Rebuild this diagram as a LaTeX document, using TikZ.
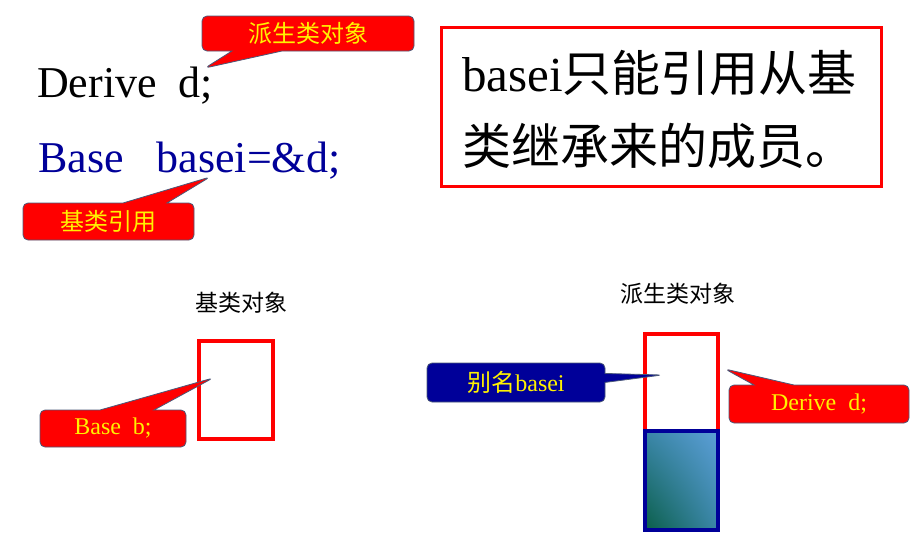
\documentclass[tikz,border=0pt]{standalone}
\usepackage{fontspec}
\setmainfont{Liberation Serif}
\newfontfamily\cjk{Noto Sans CJK SC}
\usetikzlibrary{shapes.callouts,shadings}
\definecolor{codeblue}{HTML}{000099}
\definecolor{edgegrey}{HTML}{4A5878}
\definecolor{shadeA}{HTML}{0A5E48}
\definecolor{shadeB}{HTML}{5C9FD8}
\definecolor{shadeM}{HTML}{3A86A8}
\tikzset{
  callout/.style={rectangle callout, draw=edgegrey, line width=0.8pt, rounded corners=5pt,
    inner sep=0pt, text=yellow, font=\fontsize{24}{24}\selectfont},
  redcall/.style={callout, fill=red},
  bluecall/.style={callout, fill=codeblue},
  objbox/.style={draw=red, line width=3.5pt},
  code/.style={anchor=base west, inner sep=0pt, font=\fontsize{44}{44}\selectfont},
  caption/.style={anchor=base, inner sep=0pt, font=\cjk\fontsize{23}{23}\selectfont}
}
\begin{document}
\begin{tikzpicture}[x=1pt,y=-1pt]
\useasboundingbox (0,0) rectangle (916,550);
\fill[white] (0,0) rectangle (916,550);

% code lines
\node[code] (l1) at (37,97) {Derive~~d;};
\node[code, text=codeblue] (l2) at (38,172) {Base~~~basei=\&d;};

% callouts at top
\node[redcall, minimum width=212pt, minimum height=35pt, callout pointer width=50pt,
  callout absolute pointer={(205,68)}] (c1) at (308,33.5) {\cjk 派生类对象};
\node[redcall, minimum width=171pt, minimum height=37pt, callout pointer width=44pt,
  callout absolute pointer={(210,177)}] (c2) at (108.5,221.5) {\cjk 基类引用};

% big statement box
\draw[draw=red, line width=3pt] (441,27) rectangle (881,186);
\node[anchor=base west, inner sep=0pt, font=\fontsize{49}{49}\selectfont] (t1) at (462,91) {basei{\cjk 只能引用从基}};
\node[anchor=base west, inner sep=0pt, font=\fontsize{49}{49}\selectfont\cjk] (t2) at (462,164) {类继承来的成员。};

% base object
\node[caption] (cap1) at (241,311) {基类对象};
\draw[objbox] (199,341) rectangle (273,439);
\coordinate (bp) at (213,378);
\node[redcall, minimum width=146pt, minimum height=37pt, callout pointer width=54pt,
  callout absolute pointer={(bp)}] (c3) at (113,428.5) {Base~~b;};

% derived object
\node[caption] (cap2) at (678,302) {派生类对象};
\draw[objbox] (645,334) rectangle (718,431);
\shade[lower left=shadeA, upper right=shadeB, upper left=shadeM, lower right=shadeM] (645,431) rectangle (718,530);
\draw[draw=codeblue, line width=3.5pt] (645,431) rectangle (718,530);
\coordinate (dp1) at (662,375);
\coordinate (dp2) at (725,369);
\node[bluecall, minimum width=178pt, minimum height=39pt, callout pointer width=9pt,
  callout absolute pointer={(dp1)}] (c4) at (516,382.5) {{\cjk 别名}basei};
\node[redcall, minimum width=180pt, minimum height=38pt, callout pointer width=40pt,
  callout absolute pointer={(dp2)}] (c5) at (819,404) {Derive~~d;};
\end{tikzpicture}
\end{document}
